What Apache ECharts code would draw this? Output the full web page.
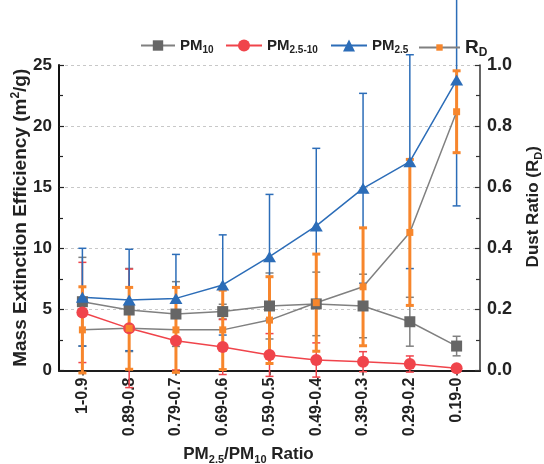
<!DOCTYPE html>
<html>
<head>
<meta charset="utf-8">
<script src="https://cdn.jsdelivr.net/npm/echarts@6/dist/echarts.min.js"></script>
<style>
html,body{margin:0;padding:0;background:#fff;}
#chart{width:544px;height:464px;}
</style>
</head>
<body>
<div id="chart"></div>
<script>
// ---- Data ----
const categories = ['1-0.9','0.89-0.8','0.79-0.7','0.69-0.6','0.59-0.5','0.49-0.4','0.39-0.3','0.29-0.2','0.19-0'];
const pm10       = [5.63, 4.95, 4.62, 4.82, 5.28, 5.45, 5.28, 3.99, 2.0];
const pm10Err    = [3.63, 3.4, 2.65, 0.6, 2.7, 2.6, 2.6, 2.0, 0.8];
const pm25_10    = [4.75, 3.45, 2.44, 1.92, 1.27, 0.86, 0.72, 0.53, 0.18];
const pm25_10Err = [4.1, 4.85, 2.4, 2.25, 1.75, 1.4, 0.82, 0.66, 0.1];
const pm25       = [6.0, 5.77, 5.9, 7.0, 9.31, 11.83, 14.91, 17.09, 23.77];
const pm25Err    = [4.0, 4.15, 3.6, 4.1, 5.1, 6.35, 7.77, 8.75, 10.3];
const rd         = [0.133, 0.138, 0.133, 0.133, 0.165, 0.222, 0.274, 0.452, 0.847];
const rdErr      = [0.141, 0.134, 0.139, 0.13, 0.142, 0.159, 0.193, 0.239, 0.134];
const leftTicks  = [0, 5, 10, 15, 20, 25];
const rightTicks = [0, 0.2, 0.4, 0.6, 0.8, 1.0];

const C_GRAY = '#666666', C_GRAYLINE = '#808080', C_RED = '#f0444b', C_BLUE = '#2c6db8', C_ORANGE = '#f7862c';

function errSeries(vals, errs, color, width, capW, yIdx) {
  return {
    type: 'custom',
    yAxisIndex: yIdx,
    xAxisIndex: 0,
    silent: true,
    clip: false,
    data: vals.map((v, i) => [i, v, errs[i]]),
    encode: {x: 0, y: 1},
    renderItem: function (params, api) {
      const x = api.value(0), v = api.value(1), e = api.value(2);
      const t = api.coord([x, v + e]);
      const b = api.coord([x, v - e]);
      const h = capW / 2;
      const st = {stroke: color, lineWidth: width, fill: null};
      return {
        type: 'group',
        children: [
          {type: 'line', shape: {x1: t[0], y1: t[1], x2: b[0], y2: b[1]}, style: st},
          {type: 'line', shape: {x1: t[0] - h, y1: t[1], x2: t[0] + h, y2: t[1]}, style: st},
          {type: 'line', shape: {x1: b[0] - h, y1: b[1], x2: b[0] + h, y2: b[1]}, style: st}
        ]
      };
    }
  };
}

const FONT = 'Liberation Sans, Arial, sans-serif';
const legendRich = {
  b: {fontSize: 15, fontWeight: 'bold', color: '#222', fontFamily: FONT, lineHeight: 20},
  s: {fontSize: 10, fontWeight: 'bold', color: '#222', fontFamily: FONT, lineHeight: 10, verticalAlign: 'bottom'},
  r: {fontSize: 19, fontWeight: 'bold', color: '#222', fontFamily: FONT, lineHeight: 22},
  rs: {fontSize: 12, fontWeight: 'bold', color: '#222', fontFamily: FONT, lineHeight: 12, verticalAlign: 'bottom'}
};
const legendText = {
  'PM10': '{b|PM}{s|10}',
  'PM2.5-10': '{b|PM}{s|2.5-10}',
  'PM2.5': '{b|PM}{s|2.5}',
  'RD': '{r|R}{rs|D}'
};
function legendFor(name, left, w, h) {
  return {
    left: left, top: 45 - 12, height: 22,
    itemWidth: w, itemHeight: h,
    data: [name],
    formatter: n => legendText[n],
    textStyle: {rich: legendRich},
    selectedMode: false
  };
}

const chart = echarts.init(document.getElementById('chart'));
chart.setOption({
  animation: false,
  backgroundColor: '#fff',
  textStyle: {fontFamily: FONT},
  grid: {left: 59, right: 64, top: 65, bottom: 93.5, outerBoundsMode: 'none', containLabel: false},
  legend: [
    legendFor('PM10', 135, 34, 13),
    legendFor('PM2.5-10', 220, 36, 15),
    legendFor('PM2.5', 325, 36, 15),
    legendFor('RD', 413, 41, 8)
  ],
  xAxis: [{
    type: 'category', data: categories, position: 'bottom', boundaryGap: true,
    axisLine: {lineStyle: {color: '#111', width: 2}},
    axisTick: {show: false},
    axisLabel: {rotate: 90, fontSize: 16, fontWeight: 'bold', color: '#222', fontFamily: FONT, margin: 7},
    name: '{b|PM}{s|2.5}{b|/PM}{s|10}{b| Ratio}',
    nameLocation: 'middle', nameGap: 73,
    nameTextStyle: {
      padding: [0, 42, 0, 0],
      rich: {
        b: {fontSize: 17, fontWeight: 'bold', color: '#222', fontFamily: FONT, lineHeight: 22},
        s: {fontSize: 11, fontWeight: 'bold', color: '#222', fontFamily: FONT, lineHeight: 11, verticalAlign: 'bottom'}
      }
    }
  }, {
    type: 'category', data: categories, position: 'top', boundaryGap: true,
    axisLine: {lineStyle: {color: '#222', width: 1.5}},
    axisTick: {show: true, inside: true, alignWithLabel: true, length: 5, lineStyle: {color: '#222', width: 1.5}},
    axisLabel: {show: false}
  }],
  yAxis: [{
    type: 'value', min: 0, max: 25, interval: 5,
    axisLine: {show: true, lineStyle: {color: '#111', width: 2}},
    axisTick: {show: true, inside: true, length: 5, lineStyle: {color: '#222', width: 1.2}},
    minorTick: {show: true, splitNumber: 2, length: 4, lineStyle: {color: '#222', width: 1.2}},
    splitLine: {show: true, lineStyle: {color: '#c8c8c8', type: [3, 3], width: 1}},
    axisLabel: {fontSize: 17, fontWeight: 'bold', color: '#222', fontFamily: FONT, margin: 7,
      formatter: v => leftTicks.indexOf(v) >= 0 ? String(v) : ''},
    name: '{t|Mass Extinction Efficiency (m}{p|2}{t|/g)}',
    nameLocation: 'middle', nameGap: 27, nameMoveOverlap: false,
    nameTextStyle: {
      rich: {
        t: {fontSize: 19, fontWeight: 'bold', color: '#222', fontFamily: FONT, lineHeight: 22},
        p: {fontSize: 12, fontWeight: 'bold', color: '#222', fontFamily: FONT, lineHeight: 12, verticalAlign: 'top'}
      }
    }
  }, {
    type: 'value', min: 0, max: 1, interval: 0.2, position: 'right',
    axisLine: {show: true, lineStyle: {color: '#333', width: 1.5}},
    axisTick: {show: true, inside: true, length: 5, lineStyle: {color: '#333', width: 1.2}},
    minorTick: {show: true, splitNumber: 2, length: 4, lineStyle: {color: '#333', width: 1.2}},
    splitLine: {show: false},
    axisLabel: {fontSize: 18, fontWeight: 'bold', color: '#222', fontFamily: FONT, margin: 7,
      formatter: v => rightTicks.some(t => Math.abs(t - v) < 1e-9) ? v.toFixed(1) : ''},
    name: '{t|Dust Ratio (R}{s|D}{t|)}',
    nameLocation: 'middle', nameGap: 42,
    nameTextStyle: {
      padding: [0, 0, 0, 22],
      rich: {
        t: {fontSize: 17, fontWeight: 'bold', color: '#222', fontFamily: FONT, lineHeight: 22},
        s: {fontSize: 11, fontWeight: 'bold', color: '#222', fontFamily: FONT, lineHeight: 11, verticalAlign: 'bottom'}
      }
    }
  }],
  series: [
    errSeries(pm10, pm10Err, C_GRAYLINE, 1.5, 8, 0),
    {name: 'PM10', type: 'line', data: pm10, yAxisIndex: 0, symbol: 'rect', symbolSize: 11,
      lineStyle: {color: C_GRAYLINE, width: 1.5}, itemStyle: {color: C_GRAY}},
    errSeries(pm25_10, pm25_10Err, C_RED, 1.5, 8, 0),
    {name: 'PM2.5-10', type: 'line', data: pm25_10, yAxisIndex: 0, symbol: 'circle', symbolSize: 12,
      lineStyle: {color: C_RED, width: 1.5}, itemStyle: {color: C_RED}},
    errSeries(pm25, pm25Err, C_BLUE, 1.5, 8, 0),
    {name: 'PM2.5', type: 'line', data: pm25, yAxisIndex: 0, symbol: 'triangle', symbolSize: [13, 11],
      lineStyle: {color: C_BLUE, width: 1.5}, itemStyle: {color: C_BLUE}},
    errSeries(rd, rdErr, C_ORANGE, 3, 8, 1),
    {name: 'RD', type: 'line', data: rd, yAxisIndex: 1, symbol: 'rect', symbolSize: 7,
      lineStyle: {color: C_GRAYLINE, width: 1.5}, itemStyle: {color: C_ORANGE}}
  ]
});
</script>
</body>
</html>
